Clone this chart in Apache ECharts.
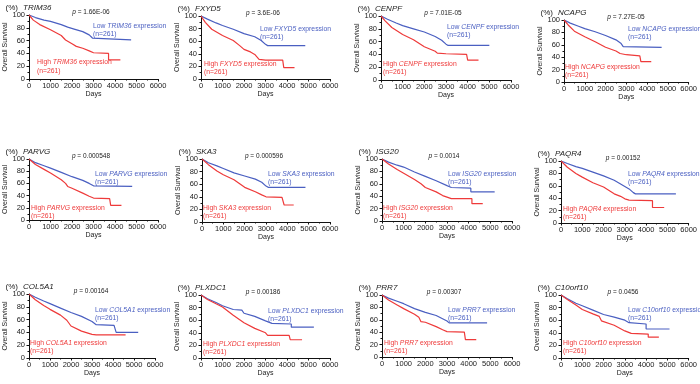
<!DOCTYPE html>
<html>
<head>
<meta charset="utf-8">
<script src="https://cdn.jsdelivr.net/npm/echarts@6/dist/echarts.min.js"></script>
<style>
html,body{margin:0;padding:0;background:#fff;}
#container{width:700px;height:384px;}
</style>
</head>
<body>
<div id="container"></div>
<script>
// genes and log-rank p values, panel order left->right, top->bottom
var genes = ['TRIM36','FXYD5','CENPF','NCAPG','PARVG','SKA3','ISG20','PAQR4','COL5A1','PLXDC1','PRR7','C10orf10'];
var pValues = ['1.66E-06','3.6E-06','7.01E-05','7.27E-05','0.000548','0.000596','0.0014','0.00152','0.00164','0.00186','0.00307','0.0456'];
var groupSize = 261;
var dayTicks = [0, 6000, 1000];
var survivalTicks = [0, 100, 20];

// [days, % survival]
var lowCurves = [
  [[0,100],[300,96],[700,92],[1000,90],[1500,85],[1800,81],[2100,78],[2500,74],[2800,69],[2950,64],[3000,61],[4750,61]],
  [[0,100],[300,95],[700,89],[1000,85],[1500,79],[2000,72],[2500,67],[2800,61],[3000,55],[3100,53],[4850,53]],
  [[0,100],[300,95],[700,89],[1000,85],[1500,80],[2000,75],[2500,68],[2800,62],[3000,56],[3100,54],[5000,54]],
  [[0,100],[300,95],[700,90],[1000,86],[1500,81],[2000,75],[2500,68],[2750,62],[2850,57],[4700,56]],
  [[0,100],[300,94],[700,89],[1000,85],[1500,78],[2000,71],[2500,65],[2800,60],[3000,56],[4800,55]],
  [[0,100],[300,94],[700,89],[1000,85],[1500,78],[2000,73],[2500,68],[2800,63],[3000,57],[3100,55],[4850,55]],
  [[0,100],[300,95],[700,90],[1000,87],[1500,79],[2000,72],[2500,65],[3000,57],[3200,54],[4100,53],[4100,47],[5200,47]],
  [[0,100],[300,96],[700,91],[1000,88],[1500,82],[2000,76],[2500,69],[3000,59],[3200,55],[3400,49],[3500,47],[5400,47]],
  [[0,100],[300,95],[700,89],[1000,85],[1500,78],[2000,71],[2500,65],[3000,57],[3200,52],[4050,51],[4150,40],[5200,40]],
  [[0,100],[300,94],[700,88],[1000,83],[1500,77],[1900,76],[2000,71],[2500,66],[3000,59],[3300,55],[4200,54],[4200,49],[5250,49]],
  [[0,100],[300,95],[700,90],[1000,86],[1500,78],[2000,72],[2500,67],[3000,58],[3100,55],[4850,55]],
  [[0,100],[300,94],[700,87],[1000,83],[1500,76],[2000,69],[2500,65],[3000,60],[3200,56],[4000,54],[4000,46],[5100,46]]
];
var highCurves = [
  [[0,100],[200,92],[500,85],[1000,77],[1500,68],[1700,61],[2000,55],[2200,51],[2500,48],[2800,44],[3000,41],[3700,40],[3700,30],[4250,30]],
  [[0,100],[200,90],[500,79],[1000,69],[1500,61],[1800,53],[2000,47],[2300,43],[2500,39],[2700,31],[3000,30],[3800,30],[3850,18],[4350,18]],
  [[0,100],[200,92],[500,82],[1000,71],[1500,63],[2000,52],[2500,45],[2600,42],[3000,41],[3950,40],[4000,31],[4500,31]],
  [[0,100],[200,92],[500,82],[1000,73],[1500,65],[2000,56],[2500,50],[2700,46],[3000,44],[3650,42],[3700,33],[4200,33]],
  [[0,100],[300,91],[700,83],[1000,77],[1500,66],[1700,60],[1800,55],[2000,52],[2500,44],[2800,39],[3000,36],[3750,35],[3800,24],[4300,24]],
  [[0,100],[300,91],[700,81],[1000,75],[1500,67],[1800,60],[2000,55],[2500,48],[2800,43],[3000,40],[3750,39],[3850,27],[4300,27]],
  [[0,100],[300,92],[700,83],[1000,77],[1500,67],[1800,60],[2000,54],[2500,47],[2800,41],[3200,36],[4150,36],[4150,28],[4650,28]],
  [[0,100],[300,90],[700,80],[1000,74],[1500,65],[2000,58],[2500,47],[2800,43],[3000,39],[3200,37],[4300,36],[4300,25],[4850,25]],
  [[0,100],[300,91],[700,82],[1000,76],[1500,67],[1800,59],[2000,50],[2500,42],[3000,37],[3200,36],[4600,36]],
  [[0,100],[300,93],[700,86],[1000,81],[1500,68],[2000,56],[2500,47],[3000,40],[3100,36],[4100,36],[4150,29],[4700,29]],
  [[0,100],[300,92],[700,84],[1000,78],[1500,69],[1700,64],[1800,57],[2000,56],[2500,49],[2800,44],[3000,41],[3800,40],[3850,28],[4350,28]],
  [[0,100],[300,93],[700,84],[1000,77],[1500,70],[1800,66],[1900,59],[2500,52],[3000,43],[3300,39],[4100,38],[4100,33],[4600,33]]
];

// panel boxes: left, top, width, height (px)
var boxes = [
  [29,15,129,64],[201,16,129,63],[381,16,130,64],[564,20,129,62],
  [29,159,129,61],[202,159,128,63],[382,159,130,62],[561,161,128,62],
  [29,294,126,64],[201,295,129,63],[382,295,130,62],[561,295,128,63]
];
// label offsets from plot corner: low dx, low dy, high dx, high dy
var labelPos = [
  [64,6.5,8,43],[59,8.5,3,43.5],[66,6.5,2,43.5],[64,4.5,1,42.5],
  [66,10.5,2,44.5],[66,10.5,1,44.5],[66,10.5,1,44.5],[67,8.5,2,43.5],
  [66,11.5,1,44.5],[67,11.5,2,44.5],[66,10.5,2,43.5],[67,10.5,2,43.5]
];

var blue = '#4a5fc1', red = '#ee3a3a';
var font = 'Liberation Sans, Arial, sans-serif';

var myChart = echarts.init(document.getElementById('container'));
var grid = [], xAxis = [], yAxis = [], series = [], graphic = [];

function richStyle(color, size){
  return {
    n: {fontSize: size, fontFamily: font, color: color, fill: color, lineHeight: 8.5},
    i: {fontSize: size, fontFamily: font, color: color, fill: color, fontStyle: 'italic', lineHeight: 8.5}
  };
}

for (var k = 0; k < genes.length; k++) {
  var b = boxes[k], lp = labelPos[k];
  grid.push({left: b[0], top: b[1], width: b[2], height: b[3]});
  xAxis.push({
    type: 'value', gridIndex: k,
    min: dayTicks[0], max: dayTicks[1], interval: dayTicks[2],
    name: 'Days', nameLocation: 'middle', nameGap: 11.5,
    nameTextStyle: {fontSize: 7, fontFamily: font, color: '#222'},
    axisLine: {show: true, lineStyle: {color: '#111', width: 1}},
    axisTick: {show: true, length: 2.5, lineStyle: {color: '#111'}},
    minorTick: {show: true, splitNumber: 2, length: 1.5, lineStyle: {color: '#111'}},
    axisLabel: {fontSize: 7.5, fontFamily: font, color: '#222', margin: 3,
      formatter: function(v){ return String(v); }},
    splitLine: {show: false}
  });
  yAxis.push({
    type: 'value', gridIndex: k,
    min: survivalTicks[0], max: survivalTicks[1], interval: survivalTicks[2],
    name: 'Overall Survival', nameLocation: 'middle', nameGap: 20,
    nameTextStyle: {fontSize: 7, fontFamily: font, color: '#222'},
    axisLine: {show: true, lineStyle: {color: '#111', width: 1}},
    axisTick: {show: true, length: 2.5, lineStyle: {color: '#111'}},
    minorTick: {show: true, splitNumber: 2, length: 1.5, lineStyle: {color: '#111'}},
    axisLabel: {fontSize: 7.5, fontFamily: font, color: '#222', margin: 4},
    splitLine: {show: false}
  });
  series.push({
    type: 'line', xAxisIndex: k, yAxisIndex: k, data: lowCurves[k],
    showSymbol: false, silent: true, lineStyle: {color: blue, width: 1.2}
  });
  series.push({
    type: 'line', xAxisIndex: k, yAxisIndex: k, data: highCurves[k],
    showSymbol: false, silent: true, lineStyle: {color: red, width: 1.2}
  });

  // header: (%) and gene name
  graphic.push({type: 'text', x: b[0] - 11, y: b[1] - 7, style: {
    text: '(%)', fontSize: 8, fontFamily: font, fill: '#222',
    align: 'right', textAlign: 'right', verticalAlign: 'middle', textVerticalAlign: 'middle'}});
  graphic.push({type: 'text', x: b[0] - 6, y: b[1] - 7, style: {
    text: genes[k], fontSize: 8, fontFamily: font, fontStyle: 'italic', fill: '#222',
    align: 'left', textAlign: 'left', verticalAlign: 'middle', textVerticalAlign: 'middle'}});
  // p value
  graphic.push({type: 'text', x: b[0] + 62, y: b[1] - 3, style: {
    text: '{i|p}{n| = ' + pValues[k] + '}', rich: richStyle('#222', 6.5),
    align: 'center', textAlign: 'center', verticalAlign: 'middle', textVerticalAlign: 'middle'}});
  // group labels
  graphic.push({type: 'text', x: b[0] + lp[0], y: b[1] + lp[1], style: {
    text: '{n|Low }{i|' + genes[k] + '}{n| expression}\n{n|(n=' + groupSize + ')}',
    rich: richStyle(blue, 6.8),
    align: 'left', textAlign: 'left', verticalAlign: 'top', textVerticalAlign: 'top'}});
  graphic.push({type: 'text', x: b[0] + lp[2], y: b[1] + lp[3], style: {
    text: '{n|High }{i|' + genes[k] + '}{n| expression}\n{n|(n=' + groupSize + ')}',
    rich: richStyle(red, 6.8),
    align: 'left', textAlign: 'left', verticalAlign: 'top', textVerticalAlign: 'top'}});
}

var option = {
  animation: false,
  backgroundColor: '#fff',
  grid: grid,
  xAxis: xAxis,
  yAxis: yAxis,
  series: series,
  graphic: graphic
};
myChart.setOption(option);
</script>
</body>
</html>
